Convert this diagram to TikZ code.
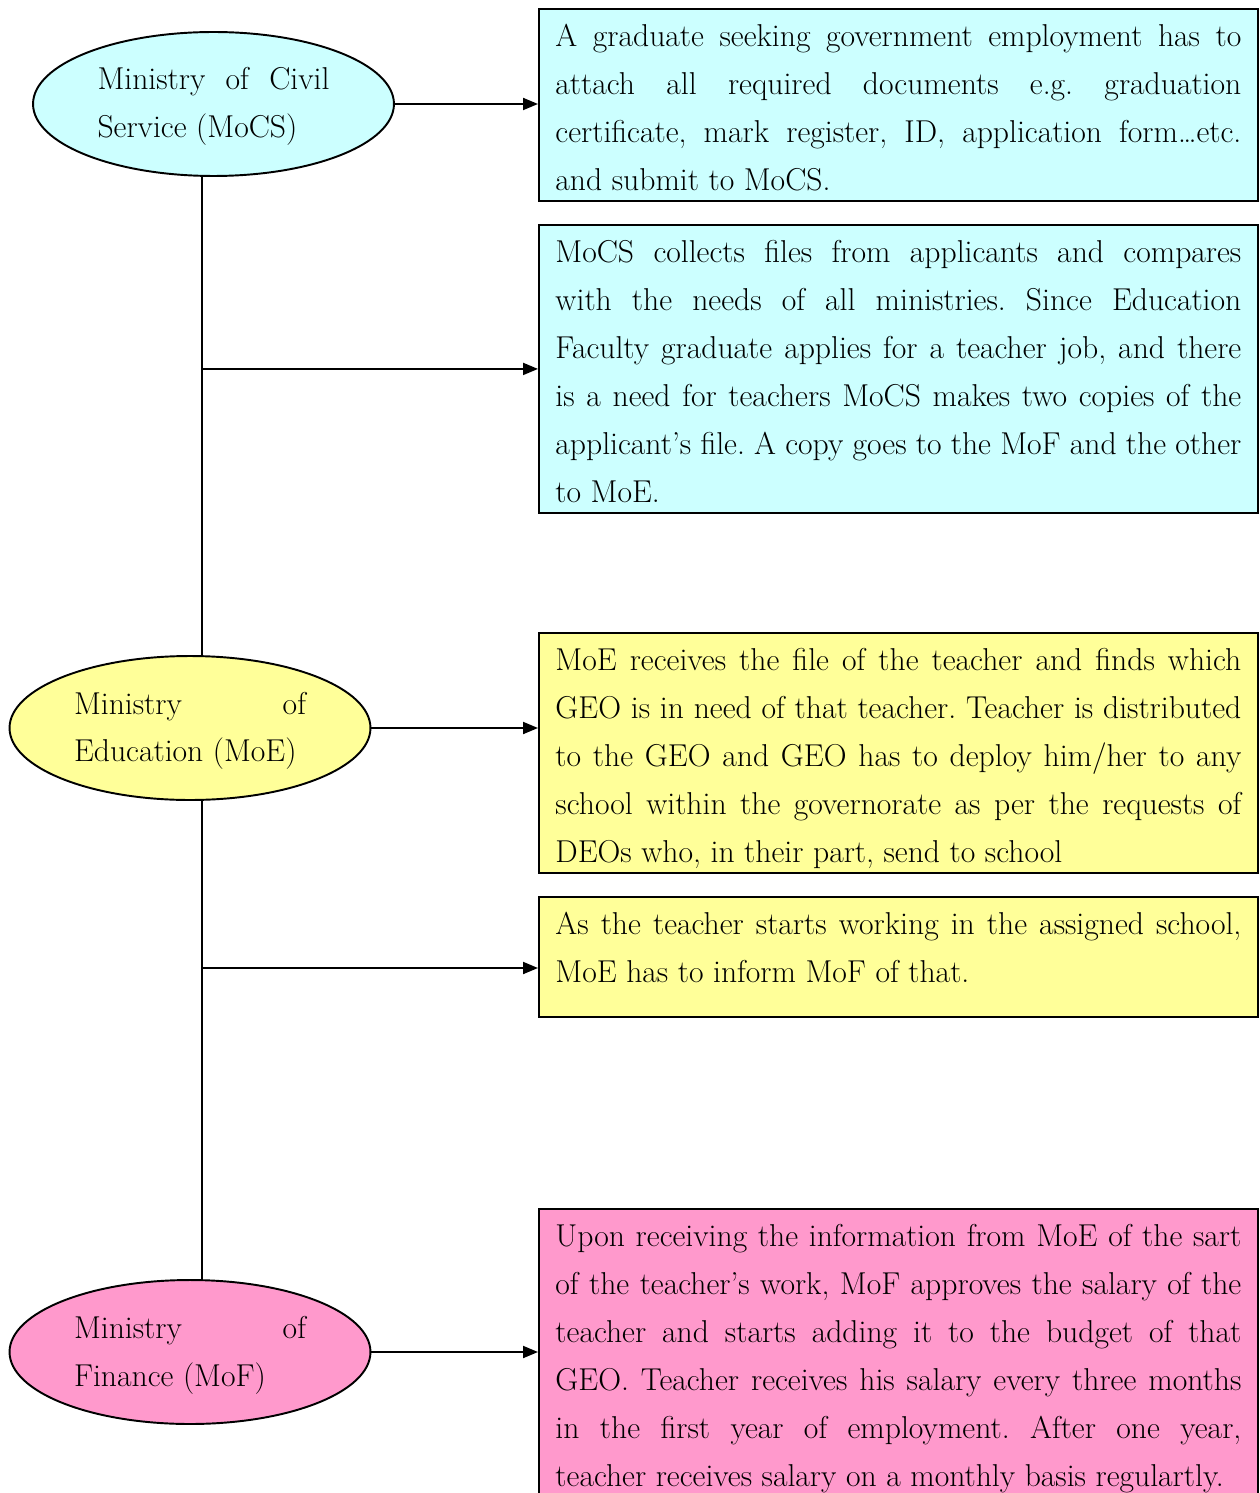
\documentclass[tikz,border=0pt]{standalone}
\usepackage{tikz}
\usetikzlibrary{arrows.meta}
\usetikzlibrary{shapes.geometric}

\definecolor{mocscyan}{HTML}{CCFFFF}
\definecolor{moeyellow}{HTML}{FFFF99}
\definecolor{mofpink}{HTML}{FF99CC}

\newcommand{\bodyfont}{\fontsize{18pt}{0.96cm}\selectfont\lineskiplimit=-1cm\tolerance=10000\hbadness=10000\hyphenpenalty=10000\frenchspacing}

\tikzset{
  ministry/.style={ellipse, draw, line width=1.1pt, minimum width=7.22cm, minimum height=2.88cm,
    inner sep=0pt, text width=4.64cm, align=justify, font=\bodyfont,
    execute at begin node={\rule{0pt}{0.68cm}}, execute at end node={\rule[-0.28cm]{0pt}{0.28cm}}},
  infobox/.style={rectangle, draw, line width=1.1pt, anchor=north west, inner xsep=0.33cm, inner ysep=0pt,
    text width=13.72cm, align=justify, font=\bodyfont,
    execute at begin node={\rule{0pt}{0.76cm}}, execute at end node={\rule[-0.2cm]{0pt}{0.2cm}}},
  flow/.style={-{Triangle[length=0.3cm,width=0.24cm]}, line width=1.1pt}
}

\begin{document}
\begin{tikzpicture}[x=0.02cm,y=-0.02cm]
    \useasboundingbox (0,0) rectangle (1259,1493);

    % ministries
    \node[ministry,fill=mocscyan] (mocs) at (213.5,104) {Ministry of Civil\linebreak Service (MoCS)};
    \node[ministry,fill=moeyellow] (moe) at (190,728) {Ministry of\linebreak Education (MoE)};
    \node[ministry,fill=mofpink] (mof) at (190,1352) {Ministry of\linebreak Finance (MoF)};

    % steps
    \node[infobox,fill=mocscyan] (apply) at (538,8) {A graduate seeking government employment has to\linebreak attach all required documents e.g. graduation\linebreak certificate, mark register, ID, application form\ldots etc.\linebreak and submit to MoCS.};
    \node[infobox,fill=mocscyan] (collect) at (538,224) {MoCS collects files from applicants and compares\linebreak with the needs of all ministries. Since Education\linebreak Faculty graduate applies for a teacher job, and there\linebreak is a need for teachers MoCS makes two copies of the\linebreak applicant's file. A copy goes to the MoF and the other\linebreak to MoE.};
    \node[infobox,fill=moeyellow] (assign) at (538,632) {MoE receives the file of the teacher and finds which\linebreak GEO is in need of that teacher. Teacher is distributed\linebreak to the GEO and GEO has to deploy him/her to any\linebreak school within the governorate as per the requests of\linebreak DEOs who, in their part, send to school};
    \node[infobox,fill=moeyellow,execute at end node={\rule[-0.68cm]{0pt}{0.68cm}}] (inform) at (538,896) {As the teacher starts working in the assigned school,\linebreak MoE has to inform MoF of that.};
    \node[infobox,fill=mofpink] (salary) at (538,1208) {Upon receiving the information from MoE of the sart\linebreak of the teacher's work, MoF approves the salary of the\linebreak teacher and starts adding it to the budget of that\linebreak GEO. Teacher receives his salary every three months\linebreak in the first year of employment. After one year,\linebreak teacher receives salary on a monthly basis regulartly.};

    % spine and arrows
    \coordinate (spine) at (202,0);
    \coordinate (tap) at (202,968);
    \draw[line width=1.1pt] (mocs.south -| spine) -- (moe.north -| spine);
    \draw[line width=1.1pt] (moe.south -| spine) -- (mof.north -| spine);
    \draw[flow] (mocs.east) -- (mocs.east -| apply.west);
    \draw[flow] (collect.west -| spine) -- (collect.west);
    \draw[flow] (moe.east) -- (moe.east -| assign.west);
    \draw[flow] (tap) -- (tap -| inform.west);
    \draw[flow] (mof.east) -- (mof.east -| salary.west);
\end{tikzpicture}
\end{document}
